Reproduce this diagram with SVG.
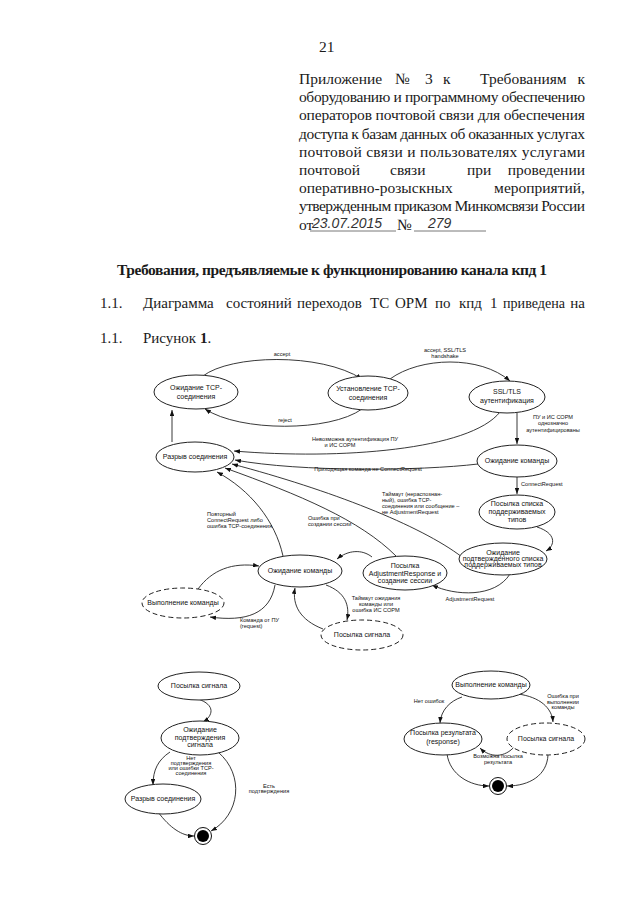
<svg xmlns="http://www.w3.org/2000/svg" width="640" height="905" viewBox="0 0 640 905">
<style>
.doc{font-family:"Liberation Serif","Times New Roman",serif;font-size:15.5px;fill:#1a1a1a}
.bd{font-family:"Liberation Serif","Times New Roman",serif;font-size:15px;fill:#1a1a1a}
.hw{font-family:"Liberation Sans",sans-serif;font-style:italic;font-size:14px;fill:#333}
.nl{font-family:"Liberation Sans",Arial,sans-serif;font-size:7px;fill:#111;text-anchor:middle}
.el{font-family:"Liberation Sans",Arial,sans-serif;font-size:5.6px;fill:#111}
.mid{text-anchor:middle}
.st{fill:#fff;stroke:#222;stroke-width:1}
.dash{fill:#fff;stroke:#222;stroke-width:1;stroke-dasharray:5 3}
.cn{fill:none;stroke:#222;stroke-width:0.9;marker-end:url(#ah)}
</style>
<defs>
<marker id="ah" viewBox="0 0 8 6" refX="8" refY="3" markerWidth="6" markerHeight="4.5" orient="auto" markerUnits="userSpaceOnUse">
<path d="M0,0 L8,3 L0,6 z" fill="#111"/>
</marker>
</defs>
<rect width="640" height="905" fill="#fff"/>

<g id="header">
<text class="doc" x="319" y="52">21</text>
<text class="doc" y="84"><tspan x="299">Приложение</tspan><tspan x="395">№</tspan><tspan x="425">3</tspan><tspan x="443">к</tspan><tspan x="480">Требованиям</tspan></text>
<text class="doc" x="585" y="84" text-anchor="end">к</text>
<text class="doc" x="299" y="102.2" textLength="286" lengthAdjust="spacing">оборудованию и программному обеспечению</text>
<text class="doc" x="299" y="120.4" textLength="286" lengthAdjust="spacing">операторов почтовой связи для обеспечения</text>
<text class="doc" x="299" y="138.6" textLength="286" lengthAdjust="spacing">доступа к базам данных об оказанных услугах</text>
<text class="doc" x="299" y="156.8" textLength="286" lengthAdjust="spacing">почтовой связи и пользователях услугами</text>
<text class="doc" y="175"><tspan x="299">почтовой</tspan><tspan x="390">связи</tspan><tspan x="467">при</tspan></text>
<text class="doc" x="585" y="175" text-anchor="end">проведении</text>
<text class="doc" x="299" y="193.2">оперативно-розыскных</text>
<text class="doc" x="585" y="193.2" text-anchor="end">мероприятий,</text>
<text class="doc" x="299" y="211.4" textLength="286" lengthAdjust="spacing">утвержденным приказом Минкомсвязи России</text>
<text class="doc" x="299" y="229.6">от</text>
<text class="hw" x="312" y="228">23.07.2015</text>
<line x1="310" y1="231" x2="396" y2="231" stroke="#555" stroke-width="0.8"/>
<text class="doc" x="397" y="229.6">№</text>
<text class="hw" x="428" y="228">279</text>
<line x1="414" y1="231" x2="486" y2="231" stroke="#555" stroke-width="0.8"/>
</g>

<g id="body">
<text class="doc" x="117" y="275" font-weight="bold" textLength="430" lengthAdjust="spacing">Требования, предъявляемые к функционированию канала кпд 1</text>
<text class="bd" y="308"><tspan x="100">1.1.</tspan><tspan x="143">Диаграмма</tspan><tspan x="226">состояний</tspan><tspan x="297">переходов</tspan><tspan x="370">ТС</tspan><tspan x="395">ОРМ</tspan><tspan x="435">по</tspan><tspan x="459">кпд</tspan><tspan x="490">1</tspan></text>
<text class="bd" x="503" y="308" textLength="62" lengthAdjust="spacingAndGlyphs">приведена</text>
<text class="bd" x="585" y="308" text-anchor="end">на</text>
<text class="bd" y="343"><tspan x="100">1.1.</tspan><tspan x="143">Рисунок </tspan><tspan font-weight="bold">1</tspan><tspan>.</tspan></text>
</g>

<g id="connectors">
<path class="cn" d="M203,376 C230,355 320,352 362,379"/>
<path class="cn" d="M390,379 C420,357 480,355 510,381"/>
<path class="cn" d="M362,409 C330,432 240,432 205,409"/>
<path class="cn" d="M172,442 L172,410"/>
<path class="cn" d="M500,412 C470,450 340,460 234,451"/>
<path class="cn" d="M517,413 L517,444"/>
<path class="cn" d="M478,464 C420,471 300,472 235,460"/>
<path class="cn" d="M517,477 L517,494"/>
<path class="cn" d="M537,527 C556,533 556,545 546,551"/>
<path class="cn" d="M510,574 C495,598 455,596 432,585"/>
<path class="cn" d="M372,557 C362,549 348,550 337,559"/>
<path class="cn" d="M462,557 C420,525 330,490 232,464"/>
<path class="cn" d="M396,556 C360,520 300,495 225,468"/>
<path class="cn" d="M283,556 C275,520 250,490 217,472"/>
<path class="cn" d="M198,589 C212,570 232,562 259,566"/>
<path class="cn" d="M275,585 C270,614 246,622 210,617"/>
<path class="cn" d="M326,585 C345,592 350,605 347,620"/>
<path class="cn" d="M323,629 C300,620 292,605 295,588"/>
<path class="cn" d="M198,699 C216,705 213,716 203,722"/>
<path class="cn" d="M170,752 C158,760 153,770 153,785"/>
<path class="cn" d="M218,752 C245,775 240,815 211,831"/>
<path class="cn" d="M158,812 C170,828 182,836 194,836"/>
<path class="cn" d="M462,697 C450,701 441,710 440,723"/>
<path class="cn" d="M518,694 C540,697 552,708 553,722"/>
<path class="cn" d="M515,746 C505,758 490,758 480,748"/>
<path class="cn" d="M447,754 C450,775 470,786 489,786"/>
<path class="cn" d="M548,755 C547,775 530,786 507,786"/>
</g>

<g id="edge-labels">
<text class="el mid" x="282" y="356">accept</text>
<text class="el mid" x="445" y="352">accept, SSL/TLS</text>
<text class="el mid" x="445" y="358">handshake</text>
<text class="el mid" x="285" y="422">reject</text>
<text class="el mid" x="355" y="441">Невозможна аутентификация ПУ</text>
<text class="el mid" x="340" y="447">и ИС СОРМ</text>
<text class="el mid" x="553" y="419">ПУ и ИС СОРМ</text>
<text class="el mid" x="553" y="425">однозначно</text>
<text class="el mid" x="553" y="432">аутентифицированы</text>
<text class="el mid" x="368" y="471">Приходящая команда не ConnectRequest</text>
<text class="el" x="521" y="486">ConnectRequest</text>
<text class="el" x="382" y="496">Таймаут (нераспознан-</text>
<text class="el" x="382" y="502">ный), ошибка TCP-</text>
<text class="el" x="382" y="508">соединения или сообщение –</text>
<text class="el" x="382" y="514">не AdjustmentRequest</text>
<text class="el" x="207" y="516">Повторный</text>
<text class="el" x="207" y="522">ConnectRequest либо</text>
<text class="el" x="207" y="528">ошибка TCP-соединения</text>
<text class="el" x="308" y="520">Ошибка при</text>
<text class="el" x="308" y="526">создании сессии</text>
<text class="el mid" x="470" y="601">AdjustmentRequest</text>
<text class="el mid" x="376" y="600">Таймаут ожидания</text>
<text class="el mid" x="376" y="606">команды или</text>
<text class="el mid" x="376" y="612">ошибка ИС СОРМ</text>
<text class="el" x="240" y="622">Команда от ПУ</text>
<text class="el" x="240" y="628">(request)</text>
<text class="el mid" x="191" y="760">Нет</text>
<text class="el mid" x="191" y="765">подтверждения</text>
<text class="el mid" x="191" y="770">или ошибки TCP-</text>
<text class="el mid" x="191" y="775">соединения</text>
<text class="el mid" x="269" y="788">Есть</text>
<text class="el mid" x="269" y="793">подтверждения</text>
<text class="el mid" x="429" y="703">Нет ошибок</text>
<text class="el mid" x="563" y="698">Ошибка при</text>
<text class="el mid" x="563" y="704">выполнении</text>
<text class="el mid" x="563" y="709">команды</text>
<text class="el mid" x="498" y="758">Возможна посылка</text>
<text class="el mid" x="498" y="764">результата</text>
</g>

<g id="n-wait-tcp"><ellipse class="st" cx="196" cy="392" rx="42" ry="17"/><text class="nl" x="196" y="390">Ожидание TCP-</text><text class="nl" x="196" y="399">соединения</text></g>
<g id="n-establish-tcp"><ellipse class="st" cx="368" cy="393" rx="40" ry="17"/><text class="nl" x="368" y="391">Установление TCP-</text><text class="nl" x="368" y="400">соединения</text></g>
<g id="n-ssl"><ellipse class="st" cx="507" cy="397" rx="38" ry="16"/><text class="nl" x="507" y="394" font-size="7.5">SSL/TLS</text><text class="nl" x="507" y="403">аутентификация</text></g>
<g id="n-break"><ellipse class="st" cx="195" cy="457" rx="39" ry="15"/><text class="nl" x="195" y="459">Разрыв соединения</text></g>
<g id="n-wait-cmd-1"><ellipse class="st" cx="517" cy="461" rx="40" ry="16"/><text class="nl" x="517" y="463">Ожидание команды</text></g>
<g id="n-send-list"><ellipse class="st" cx="517" cy="512" rx="38" ry="17"/><text class="nl" x="517" y="506">Посылка списка</text><text class="nl" x="517" y="514">поддерживаемых</text><text class="nl" x="517" y="522">типов</text></g>
<g id="n-wait-confirm-list"><ellipse class="st" cx="503" cy="559" rx="44" ry="16"/><text class="nl" x="503" y="555" font-size="6">Ожидание</text><text class="nl" x="503" y="561" font-size="6">подтвержденного списка</text><text class="nl" x="503" y="567" font-size="6">поддерживаемых типов</text></g>
<g id="n-send-adj"><ellipse class="st" cx="405" cy="573" rx="42" ry="17"/><text class="nl" x="405" y="568" font-size="6.5">Посылка</text><text class="nl" x="405" y="576" font-size="6.5">AdjustmentResponse и</text><text class="nl" x="405" y="583" font-size="6.5">создание сессии</text></g>
<g id="n-wait-cmd-2"><ellipse class="st" cx="300" cy="571" rx="42" ry="16"/><text class="nl" x="300" y="573">Ожидание команды</text></g>
<g id="n-exec"><ellipse class="dash" cx="183" cy="603" rx="41" ry="15"/><text class="nl" x="183" y="605">Выполнение команды</text></g>
<g id="n-signal"><ellipse class="dash" cx="362" cy="635" rx="41" ry="15"/><text class="nl" x="362" y="637">Посылка сигнала</text></g>

<g id="n2-signal"><ellipse class="st" cx="199" cy="686" rx="41" ry="14"/><text class="nl" x="199" y="688">Посылка сигнала</text></g>
<g id="n2-wait-confirm"><ellipse class="st" cx="200" cy="738" rx="39" ry="17"/><text class="nl" x="200" y="732">Ожидание</text><text class="nl" x="200" y="740">подтверждения</text><text class="nl" x="200" y="747">сигнала</text></g>
<g id="n2-break"><ellipse class="st" cx="163" cy="799" rx="38" ry="15"/><text class="nl" x="163" y="801">Разрыв соединения</text></g>
<g id="n2-final"><circle cx="203" cy="836" r="8.5" fill="#fff" stroke="#111" stroke-width="1"/><circle cx="203" cy="836" r="6" fill="#000"/></g>

<g id="n3-exec"><ellipse class="st" cx="491" cy="685" rx="39" ry="14"/><text class="nl" x="491" y="687">Выполнение команды</text></g>
<g id="n3-result"><ellipse class="st" cx="443" cy="739" rx="39" ry="16"/><text class="nl" x="443" y="735">Посылка результата</text><text class="nl" x="443" y="744">(response)</text></g>
<g id="n3-signal"><ellipse class="dash" cx="546" cy="739" rx="39" ry="16"/><text class="nl" x="546" y="741">Посылка сигнала</text></g>
<g id="n3-final"><circle cx="498" cy="786" r="8.5" fill="#fff" stroke="#111" stroke-width="1"/><circle cx="498" cy="786" r="6" fill="#000"/></g>
</svg>
